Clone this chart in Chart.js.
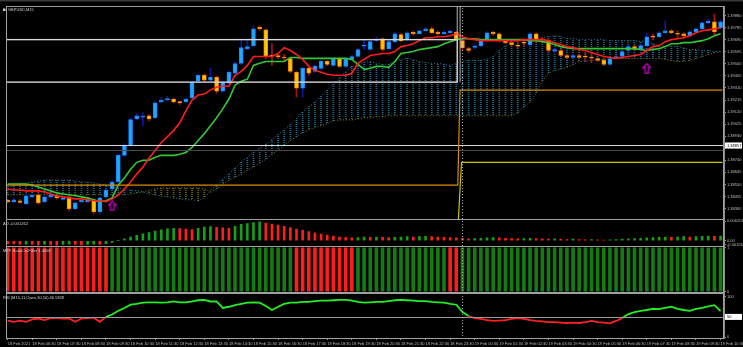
<!DOCTYPE html>
<html><head><meta charset="utf-8">
<script src="https://cdn.jsdelivr.net/npm/chart.js@4.4.1/dist/chart.umd.min.js"></script>
<style>html,body{margin:0;padding:0;background:#000;overflow:hidden}canvas{display:block}</style>
</head><body>
<canvas id="c" width="743" height="347"></canvas>
<script>
// ---------- DATA ----------
const hourLabels = ['18 Feb 2021','18 Feb 06:30','18 Feb 07:30','18 Feb 08:30','18 Feb 09:30','18 Feb 10:30','18 Feb 11:30','18 Feb 12:30','18 Feb 13:30','18 Feb 14:30','18 Feb 15:30','18 Feb 16:30','18 Feb 17:30','18 Feb 18:30','18 Feb 19:30','18 Feb 20:30','18 Feb 21:30','18 Feb 22:30','18 Feb 23:30','19 Feb 00:30','19 Feb 01:30','19 Feb 02:30','19 Feb 03:30','19 Feb 04:30','19 Feb 05:30','19 Feb 06:30','19 Feb 07:30','19 Feb 08:30','19 Feb 09:30','19 Feb 10:30'];
const priceTicks = [1.39880,1.39785,1.39690,1.39595,1.39500,1.39405,1.39310,1.39215,1.39120,1.39025,1.38930,1.38835,1.38740,1.38645,1.38550,1.38455,1.38360];

const open = [
1.38425,1.38413,1.38421,1.38397,1.38452,1.38467,1.38413,1.38452,1.38456,1.38432,
1.38452,1.38358,1.38413,1.38413,1.38429,1.38335,1.38452,1.38514,1.38569,1.38779,
1.38857,1.39067,1.39080,1.39091,1.39075,1.39200,1.39215,1.39223,1.39203,1.39200,
1.39231,1.39363,1.39410,1.39371,1.39394,1.39285,1.39348,1.39426,1.39503,1.39620,
1.39644,1.39788,1.39769,1.39570,1.39566,1.39552,1.39542,1.39433,1.39309,1.39465,
1.39441,1.39465,1.39519,1.39488,1.39542,1.39480,1.39535,1.39558,1.39640,1.39613,
1.39685,1.39698,1.39620,1.39675,1.39730,1.39691,1.39749,1.39737,1.39761,1.39776,
1.39749,1.39737,1.39745,1.39749,1.39683,1.39620,1.39630,1.39644,1.39683,1.39749,
1.39737,1.39683,1.39667,1.39647,1.39671,1.39652,1.39737,1.39695,1.39683,1.39601,
1.39605,1.39566,1.39550,1.39566,1.39562,1.39554,1.39542,1.39527,1.39496,1.39550,
1.39558,1.39605,1.39636,1.39613,1.39644,1.39718,1.39714,1.39745,1.39761,1.39740,
1.39737,1.39722,1.39753,1.39776,1.39823,1.39831,1.39784];
const close = [
1.38413,1.38429,1.38409,1.38460,1.38463,1.38405,1.38452,1.38463,1.38444,1.38444,
1.38358,1.38405,1.38425,1.38436,1.38335,1.38444,1.38506,1.38569,1.38779,1.38857,
1.39060,1.39091,1.39086,1.39067,1.39192,1.39215,1.39227,1.39200,1.39192,1.39223,
1.39355,1.39410,1.39371,1.39394,1.39285,1.39355,1.39433,1.39503,1.39628,1.39636,
1.39776,1.39776,1.39558,1.39562,1.39554,1.39548,1.39441,1.39309,1.39465,1.39426,
1.39480,1.39519,1.39496,1.39542,1.39480,1.39535,1.39558,1.39613,1.39647,1.39675,
1.39695,1.39613,1.39675,1.39737,1.39683,1.39745,1.39737,1.39761,1.39776,1.39745,
1.39737,1.39749,1.39757,1.39698,1.39628,1.39605,1.39640,1.39683,1.39745,1.39737,
1.39683,1.39667,1.39652,1.39640,1.39663,1.39737,1.39683,1.39687,1.39605,1.39613,
1.39566,1.39550,1.39566,1.39550,1.39555,1.39546,1.39527,1.39496,1.39542,1.39558,
1.39597,1.39636,1.39613,1.39644,1.39714,1.39710,1.39745,1.39761,1.39745,1.39734,
1.39722,1.39753,1.39776,1.39823,1.39835,1.39753,1.39831];
const high = [
1.38433,1.38440,1.38428,1.38470,1.38475,1.38475,1.38460,1.38470,1.38463,1.38452,
1.38460,1.38413,1.38433,1.38444,1.38436,1.38452,1.38514,1.38580,1.38790,1.38870,
1.39075,1.39110,1.39114,1.39100,1.39200,1.39235,1.39245,1.39231,1.39207,1.39235,
1.39363,1.39420,1.39420,1.39465,1.39402,1.39365,1.39445,1.39515,1.39683,1.39690,
1.39800,1.39800,1.39776,1.39659,1.39580,1.39575,1.39550,1.39440,1.39475,1.39480,
1.39490,1.39530,1.39525,1.39550,1.39550,1.39545,1.39568,1.39625,1.39691,1.39685,
1.39710,1.39706,1.39685,1.39750,1.39740,1.39755,1.39760,1.39770,1.39790,1.39790,
1.39760,1.39760,1.39770,1.39757,1.39695,1.39630,1.39650,1.39695,1.39755,1.39757,
1.39745,1.39690,1.39675,1.39660,1.39691,1.39750,1.39745,1.39710,1.39690,1.39620,
1.39613,1.39575,1.39575,1.39575,1.39590,1.39585,1.39550,1.39535,1.39550,1.39568,
1.39605,1.39645,1.39645,1.39652,1.39740,1.39737,1.39755,1.39839,1.39770,1.39761,
1.39745,1.39761,1.39784,1.39831,1.39850,1.39893,1.39845];
const low = [
1.38405,1.38405,1.38400,1.38390,1.38445,1.38395,1.38405,1.38445,1.38436,1.38425,
1.38345,1.38350,1.38405,1.38405,1.38320,1.38320,1.38444,1.38506,1.38560,1.38770,
1.38850,1.39060,1.39013,1.39050,1.39067,1.39192,1.39207,1.39192,1.39180,1.39192,
1.39223,1.39355,1.39363,1.39363,1.39270,1.39277,1.39340,1.39418,1.39496,1.39610,
1.39636,1.39765,1.39540,1.39488,1.39540,1.39530,1.39430,1.39240,1.39240,1.39410,
1.39430,1.39455,1.39485,1.39480,1.39470,1.39470,1.39527,1.39550,1.39613,1.39605,
1.39675,1.39600,1.39610,1.39665,1.39675,1.39683,1.39725,1.39730,1.39755,1.39737,
1.39725,1.39730,1.39737,1.39690,1.39610,1.39590,1.39620,1.39636,1.39675,1.39725,
1.39675,1.39660,1.39640,1.39625,1.39636,1.39640,1.39675,1.39675,1.39597,1.39590,
1.39560,1.39540,1.39542,1.39540,1.39520,1.39510,1.39519,1.39488,1.39488,1.39542,
1.39550,1.39597,1.39605,1.39605,1.39636,1.39691,1.39706,1.39737,1.39737,1.39706,
1.39714,1.39714,1.39745,1.39769,1.39815,1.39730,1.39776];

const maFast = [
1.38514,1.38506,1.38506,1.38499,1.38499,1.38499,1.38491,1.38475,1.38460,1.38452,
1.38444,1.38436,1.38436,1.38429,1.38421,1.38421,1.38413,1.38436,1.38468,1.38514,
1.38569,1.38631,1.38686,1.38756,1.38818,1.38880,1.38927,1.38974,1.39036,1.39130,
1.39215,1.39254,1.39262,1.39293,1.39317,1.39324,1.39324,1.39410,1.39441,1.39488,
1.39558,1.39558,1.39558,1.39558,1.39582,1.39628,1.39605,1.39574,1.39535,1.39480,
1.39449,1.39433,1.39418,1.39410,1.39410,1.39410,1.39426,1.39504,1.39535,1.39566,
1.39574,1.39582,1.39582,1.39597,1.39636,1.39644,1.39659,1.39683,1.39706,1.39706,
1.39714,1.39714,1.39722,1.39737,1.39714,1.39698,1.39691,1.39683,1.39683,1.39683,
1.39683,1.39683,1.39683,1.39683,1.39691,1.39691,1.39691,1.39691,1.39683,1.39667,
1.39652,1.39636,1.39628,1.39613,1.39605,1.39589,1.39574,1.39558,1.39550,1.39543,
1.39550,1.39558,1.39566,1.39574,1.39605,1.39636,1.39644,1.39675,1.39691,1.39698,
1.39706,1.39722,1.39745,1.39761,1.39768,1.39776,1.39784];
const maSlow = [
1.38553,1.38553,1.38553,1.38553,1.38545,1.38530,1.38514,1.38499,1.38483,1.38475,
1.38468,1.38460,1.38452,1.38444,1.38429,1.38413,1.38421,1.38444,1.38545,1.38600,
1.38670,1.38724,1.38740,1.38740,1.38764,1.38779,1.38779,1.38779,1.38787,1.38802,
1.38841,1.38896,1.38950,1.39013,1.39075,1.39145,1.39223,1.39332,1.39363,1.39379,
1.39488,1.39504,1.39519,1.39519,1.39519,1.39519,1.39550,1.39550,1.39543,1.39543,
1.39543,1.39543,1.39543,1.39543,1.39543,1.39543,1.39535,1.39496,1.39457,1.39465,
1.39480,1.39480,1.39472,1.39519,1.39582,1.39589,1.39597,1.39613,1.39620,1.39628,
1.39636,1.39659,1.39675,1.39691,1.39698,1.39698,1.39698,1.39691,1.39691,1.39691,
1.39691,1.39691,1.39691,1.39691,1.39691,1.39683,1.39683,1.39675,1.39667,1.39652,
1.39636,1.39628,1.39620,1.39620,1.39620,1.39620,1.39620,1.39620,1.39620,1.39620,
1.39620,1.39620,1.39620,1.39613,1.39605,1.39613,1.39620,1.39636,1.39659,1.39659,
1.39667,1.39667,1.39675,1.39683,1.39698,1.39722,1.39737];
const spanA = [
1.38530,1.38537,1.38553,1.38561,1.38569,1.38576,1.38584,1.38584,1.38584,1.38584,
1.38584,1.38576,1.38569,1.38569,1.38561,1.38553,1.38545,1.38530,1.38522,1.38514,
1.38506,1.38499,1.38491,1.38475,1.38468,1.38460,1.38452,1.38444,1.38436,1.38429,
1.38429,1.38421,1.38444,1.38499,1.38545,1.38592,1.38631,1.38678,1.38724,1.38764,
1.38802,1.38833,1.38865,1.38904,1.38942,1.38982,1.39020,1.39067,1.39122,1.39161,
1.39200,1.39246,1.39293,1.39340,1.39387,1.39441,1.39480,1.39496,1.39511,1.39519,
1.39504,1.39496,1.39496,1.39519,1.39535,1.39543,1.39535,1.39519,1.39511,1.39504,
1.39504,1.39496,1.39488,1.39504,1.39519,1.39527,1.39527,1.39527,1.39535,1.39558,
1.39605,1.39644,1.39675,1.39683,1.39683,1.39691,1.39698,1.39706,1.39714,1.39722,
1.39714,1.39698,1.39698,1.39691,1.39691,1.39691,1.39691,1.39691,1.39683,1.39683,
1.39683,1.39683,1.39683,1.39675,1.39675,1.39659,1.39644,1.39644,1.39636,1.39636,
1.39628,1.39613,1.39613,1.39605,1.39605,1.39597,1.39597];
const spanB = [
1.38468,1.38468,1.38468,1.38468,1.38468,1.38468,1.38468,1.38468,1.38468,1.38468,
1.38468,1.38468,1.38468,1.38468,1.38468,1.38468,1.38468,1.38468,1.38468,1.38468,
1.38475,1.38483,1.38491,1.38499,1.38514,1.38522,1.38522,1.38522,1.38522,1.38522,
1.38522,1.38522,1.38514,1.38491,1.38514,1.38553,1.38584,1.38608,1.38631,1.38662,
1.38686,1.38716,1.38747,1.38787,1.38818,1.38857,1.38896,1.38927,1.38958,1.38982,
1.38997,1.39013,1.39028,1.39052,1.39059,1.39059,1.39059,1.39067,1.39075,1.39075,
1.39083,1.39083,1.39091,1.39091,1.39091,1.39091,1.39091,1.39091,1.39091,1.39091,
1.39091,1.39091,1.39091,1.39091,1.39091,1.39091,1.39091,1.39091,1.39091,1.39091,
1.39091,1.39091,1.39091,1.39114,1.39161,1.39200,1.39270,1.39363,1.39426,1.39449,
1.39457,1.39472,1.39496,1.39519,1.39519,1.39527,1.39535,1.39535,1.39535,1.39543,
1.39543,1.39543,1.39543,1.39543,1.39543,1.39543,1.39543,1.39535,1.39527,1.39519,
1.39519,1.39527,1.39543,1.39558,1.39574,1.39589,1.39597];
const arrowsUp = [{bar:17, price:1.38382},{bar:104, price:1.39465}];

const ao = [
-0.00090,-0.00100,-0.00120,-0.00110,-0.00120,-0.00130,-0.00120,-0.00130,-0.00140,-0.00120,
-0.00110,-0.00120,-0.00130,-0.00120,-0.00110,-0.00120,-0.00090,-0.00050,0.00010,0.00060,
0.00120,0.00170,0.00220,0.00260,0.00310,0.00350,0.00380,0.00400,0.00390,0.00370,
0.00360,0.00400,0.00440,0.00450,0.00430,0.00410,0.00400,0.00460,0.00520,0.00550,
0.00580,0.00600,0.00560,0.00530,0.00500,0.00460,0.00420,0.00370,0.00330,0.00290,
0.00250,0.00210,0.00180,0.00150,0.00120,0.00100,0.00090,0.00100,0.00120,0.00110,
0.00120,0.00110,0.00100,0.00110,0.00120,0.00130,0.00120,0.00130,0.00140,0.00130,
0.00120,0.00110,0.00100,0.00090,0.00080,0.00060,0.00070,0.00080,0.00090,0.00100,
0.00090,0.00080,0.00070,0.00060,0.00070,0.00080,0.00070,0.00060,0.00050,0.00060,
0.00050,0.00040,0.00050,0.00040,0.00030,0.00040,0.00030,0.00020,0.00030,0.00040,
0.00050,0.00060,0.00070,0.00080,0.00090,0.00100,0.00110,0.00120,0.00110,0.00120,
0.00130,0.00120,0.00130,0.00140,0.00150,0.00140,0.00150];
const aoTicks = [0.006207, 0, -0.001262];

const ratioDir = [
-1,-1,-1,-1,-1,-1,-1,-1,-1,-1,
-1,-1,-1,-1,-1,-1,-1,1,1,1,
1,1,1,1,1,1,1,1,1,1,
1,1,1,1,1,1,1,1,1,1,
1,1,1,1,1,1,1,-1,-1,-1,
-1,-1,-1,-1,-1,-1,-1,1,1,1,
1,1,1,1,1,1,1,1,1,1,
1,1,-1,-1,1,1,1,1,1,1,
1,1,1,1,1,1,1,1,1,1,
1,1,1,1,1,1,1,1,1,1,
1,1,1,1,1,1,1,1,1,1,
1,1,1,1,1,1,1];

const rsi = [
41,38,41,38,44,46,42,47,47,46,
46,38,46,47,48,38,50,56,65,72,
80,82,85,86,86,85,86,88,86,86,
88,91,92,88,88,72,75,79,82,85,
86,85,77,67,75,82,85,85,87,87,
89,90,90,91,92,92,90,87,85,86,
87,87,89,91,92,91,90,89,89,87,
86,85,82,80,62,52,47,45,42,40,
41,42,45,47,45,42,40,39,37,37,
36,35,36,35,37,40,37,36,34,40,
47,57,62,65,67,70,69,72,75,70,
67,65,70,72,76,79,64];
const rsiLevel = 50;

// drawn objects (price levels / bar positions)
const boxObj = {from:-0.3, to:73.15, hi:1.39691, lo:1.39356};
const vLine2 = {at:73.62, lo:1.39356};
const hLevels = [{price:1.38864, color:'#d8d8d8'}, {price:1.38818, color:'#4a4a4a'}];
const orangePath = [[-0.3,1.38545],[73.25,1.38545],[73.6,1.39293],[116.3,1.39293]];
const yellowPath = [[73.3,1.38240],[73.85,1.38724],[116.3,1.38724]];
const daySeparatorBar = 74;
const boxedPrice = 1.38857;

// ---------- CHART ----------
const canvas = document.getElementById('c');
const mainCtx = canvas.getContext('2d');
function dotPattern(color){
  const c = document.createElement('canvas'); c.width = 1; c.height = 2;
  const g = c.getContext('2d'); g.fillStyle = color; g.fillRect(0,0,1,1);
  return mainCtx.createPattern(c, 'repeat');
}
const cyanPat = dotPattern('#1f6f92');
const olivePat = dotPattern('#6e6e14');
function makeArrow(){
  const c = document.createElement('canvas'); c.width = 9; c.height = 11;
  const g = c.getContext('2d');
  g.strokeStyle = '#d000d0'; g.lineWidth = 1.2;
  g.beginPath(); g.moveTo(4.5,0.8); g.lineTo(8.2,4.8); g.lineTo(6.2,4.8); g.lineTo(6.2,10.2);
  g.lineTo(2.8,10.2); g.lineTo(2.8,4.8); g.lineTo(0.8,4.8); g.closePath(); g.stroke();
  return c;
}
const arrowImg = makeArrow();

const idx = open.map((_, i) => i);
const bull = idx.map(i => close[i] >= open[i]);
const FONT = 'Liberation Sans';
const axisFont = {family: FONT, size: 4};
const txtColor = '#bdbdbd';
const lineGray = '#8c8c8c';

function yScale(weight, min, max, ticks, fmt){
  return {
    type:'linear', position:'right', stack:'panes', stackWeight: weight, min, max,
    afterBuildTicks: s => { s.ticks = ticks.map(v => ({value: v})); },
    afterFit: s => { s.width = 19; s.paddingTop = 0; s.paddingBottom = 0; },
    ticks: {font: axisFont, color: txtColor, padding: 1, autoSkip: false, callback: fmt},
    grid: {drawOnChartArea: false, tickLength: 2, color: lineGray},
    border: {color: lineGray}
  };
}

const overlay = {
  id: 'overlay',
  afterDatasetsDraw(chart){
    const {ctx, chartArea: ca, scales: {x, y}} = chart;
    const px = v => x.getPixelForValue(v), py = v => y.getPixelForValue(v);
    ctx.save();
    ctx.beginPath(); ctx.rect(ca.left, y.top, ca.right - ca.left, y.bottom - y.top); ctx.clip();
    for (const l of hLevels){
      const yy = Math.round(py(l.price)) + 0.5;
      ctx.strokeStyle = l.color; ctx.lineWidth = 1;
      ctx.beginPath(); ctx.moveTo(ca.left, yy); ctx.lineTo(ca.right, yy); ctx.stroke();
    }
    ctx.strokeStyle = '#d8d8d8'; ctx.lineWidth = 1.4;
    ctx.strokeRect(px(boxObj.from), py(boxObj.hi), px(boxObj.to) - px(boxObj.from), py(boxObj.lo) - py(boxObj.hi));
    ctx.strokeStyle = '#b0b0b0'; ctx.lineWidth = 1;
    ctx.beginPath(); ctx.moveTo(px(vLine2.at), y.top); ctx.lineTo(px(vLine2.at), py(vLine2.lo)); ctx.stroke();
    ctx.beginPath(); ctx.moveTo(px(boxObj.to), y.top); ctx.lineTo(px(boxObj.to), py(boxObj.hi)); ctx.stroke();
    const path = (pts, color) => {
      ctx.strokeStyle = color; ctx.lineWidth = 1.2; ctx.beginPath();
      pts.forEach((p, k) => { const X = px(p[0]), Y = py(p[1]); k ? ctx.lineTo(X, Y) : ctx.moveTo(X, Y); });
      ctx.stroke();
    };
    path(orangePath, '#d98b00');
    path(yellowPath, '#c9c400');
    ctx.restore();
  },
  afterDraw(chart){
    const {ctx, chartArea: ca, scales} = chart;
    const {x, y, yAO, yRatio, yRSI} = scales;
    ctx.save();
    ctx.fillStyle = '#3a3a3a'; ctx.fillRect(0, 0, 743, 1.5);
    ctx.strokeStyle = '#a0a0a0'; ctx.lineWidth = 1;
    for (const s of [y, yAO, yRatio, yRSI]){
      ctx.strokeRect(ca.left + 0.5, Math.round(s.top) + 0.5, ca.right - ca.left - 1, Math.round(s.bottom - s.top));
    }
    const ly = Math.round(yRSI.getPixelForValue(rsiLevel)) + 0.5;
    ctx.strokeStyle = '#9a9a9a';
    ctx.beginPath(); ctx.moveTo(ca.left, ly); ctx.lineTo(ca.right, ly); ctx.stroke();
    const sx = Math.round(x.getPixelForValue(daySeparatorBar)) + 0.5;
    ctx.setLineDash([1, 2]); ctx.strokeStyle = '#b0b0b0';
    ctx.beginPath(); ctx.moveTo(sx, y.top + 2); ctx.lineTo(sx, ca.bottom); ctx.stroke();
    ctx.setLineDash([]);
    ctx.font = '4px "' + FONT + '"'; ctx.textBaseline = 'middle';
    const boxLabel = (yy, text) => {
      ctx.fillStyle = '#ffffff'; ctx.fillRect(ca.right + 1, yy - 3, 17, 6);
      ctx.fillStyle = '#000000'; ctx.textAlign = 'left'; ctx.fillText(text, ca.right + 3, yy + 0.3);
    };
    boxLabel(y.getPixelForValue(boxedPrice), boxedPrice.toFixed(5));
    boxLabel(yRSI.getPixelForValue(rsiLevel), String(rsiLevel));
    ctx.fillStyle = '#d0d0d0'; ctx.textAlign = 'left';
    ctx.fillRect(3, y.top + 2.5, 2.5, 2.5);
    ctx.fillText('GBPUSD,M15', 8, y.top + 4);
    ctx.fillText('AO -0.001262', 3, yAO.top + 4);
    ctx.fillText('MTF-RatioCo-Filter 1.0000', 3, yRatio.top + 5);
    ctx.fillText('RSI (M15,11,Open,30,50) 46.5828', 3, yRSI.top + 5);
    ctx.restore();
  }
};

new Chart(canvas, {
  type: 'bar',
  data: {
    datasets: [
      {type:'bar', yAxisID:'y', data: idx.map(i => ({x:i, y:[spanA[i], spanB[i]]})),
       backgroundColor: idx.map(i => spanA[i] >= spanB[i] ? cyanPat : olivePat),
       barThickness: 1, grouped: false, borderWidth: 0, order: 20},
      {type:'line', yAxisID:'y', data: idx.map(i => ({x:i, y:spanA[i]})), borderColor:'#2a7ea6',
       borderWidth: 1, borderDash:[1,2], pointRadius: 0, order: 19},
      {type:'line', yAxisID:'y', data: idx.map(i => ({x:i, y:spanB[i]})), borderColor:'#80801a',
       borderWidth: 1, borderDash:[1,2], pointRadius: 0, order: 18},
      {type:'bar', yAxisID:'y', data: idx.map(i => ({x:i, y:[low[i], high[i]]})),
       backgroundColor: idx.map(i => bull[i] ? '#1414a8' : '#a81414'),
       barThickness: 1, grouped: false, borderWidth: 0, order: 6},
      {type:'bar', yAxisID:'y', data: idx.map(i => ({x:i, y:[open[i], close[i]]})),
       backgroundColor: idx.map(i => bull[i] ? '#1ea8ff' : '#ffc800'),
       borderColor: idx.map(i => bull[i] ? '#1a86ff' : '#ff8a00'),
       borderWidth: 1, borderSkipped: false, barThickness: 4, grouped: false, order: 5},
      {type:'line', yAxisID:'y', data: idx.map(i => ({x:i, y:maSlow[i]})), borderColor:'#32c832',
       borderWidth: 1.6, pointRadius: 0, order: 4},
      {type:'line', yAxisID:'y', data: idx.map(i => ({x:i, y:maFast[i]})), borderColor:'#ff1c1c',
       borderWidth: 1.6, pointRadius: 0, order: 3},
      {type:'line', yAxisID:'y', data: arrowsUp.map(a => ({x:a.bar, y:a.price})), showLine: false,
       pointStyle: arrowImg, pointRadius: 5, order: 1},
      {type:'bar', yAxisID:'yAO', data: idx.map(i => ({x:i, y:ao[i]})),
       backgroundColor: idx.map(i => (i > 0 && ao[i] > ao[i-1]) ? '#15a015' : '#ff1c1c'),
       barThickness: 2, grouped: false, borderWidth: 0, order: 10},
      {type:'bar', yAxisID:'yRatio', data: idx.map(i => ({x:i, y:[0, 1]})),
       backgroundColor: idx.map(i => ratioDir[i] > 0 ? '#127c12' : '#ff1c1c'),
       barThickness: 3, grouped: false, borderWidth: 0, order: 10},
      {type:'line', yAxisID:'yRSI', data: idx.map(i => ({x:i, y:rsi[i]})), borderWidth: 1.8, pointRadius: 0,
       borderColor:'#22ee22',
       segment: {borderColor: c => ((c.p0.parsed.y + c.p1.parsed.y) / 2 >= rsiLevel ? '#22ee22' : '#ff2020')},
       order: 10}
    ]
  },
  options: {
    responsive: false, animation: false, devicePixelRatio: 1,
    layout: {padding: {left: 0, top: 2, right: 0, bottom: 0}},
    plugins: {legend: {display: false}, tooltip: {enabled: false}, title: {display: false}},
    events: [],
    scales: {
      x: {
        type:'linear', position:'bottom', min: -0.27, max: 116.56, offset: false,
        afterBuildTicks: s => { s.ticks = hourLabels.map((_, k) => ({value: k * 4})); },
        afterFit: s => { s.height = 9; s.paddingLeft = 0; s.paddingRight = 0; },
        ticks: {font: axisFont, color: txtColor, padding: 1, align: 'start', autoSkip: false,
                maxRotation: 0, minRotation: 0, callback: v => hourLabels[Math.round(v / 4)]},
        grid: {drawOnChartArea: false, offset: false, tickLength: 2, color: lineGray},
        border: {color: lineGray}
      },
      y: yScale(216, 1.38274, 1.39956, priceTicks, v => v.toFixed(5)),
      yAO: yScale(27, -0.0017, 0.0068, aoTicks, v => v === 0 ? '0.00' : v.toFixed(6)),
      yRatio: yScale(47, -0.02, 1.04, [1, 0], v => String(v)),
      yRSI: yScale(46, -2, 110, [100, 0], v => String(v))
    }
  },
  plugins: [overlay]
});
</script>
</body></html>
